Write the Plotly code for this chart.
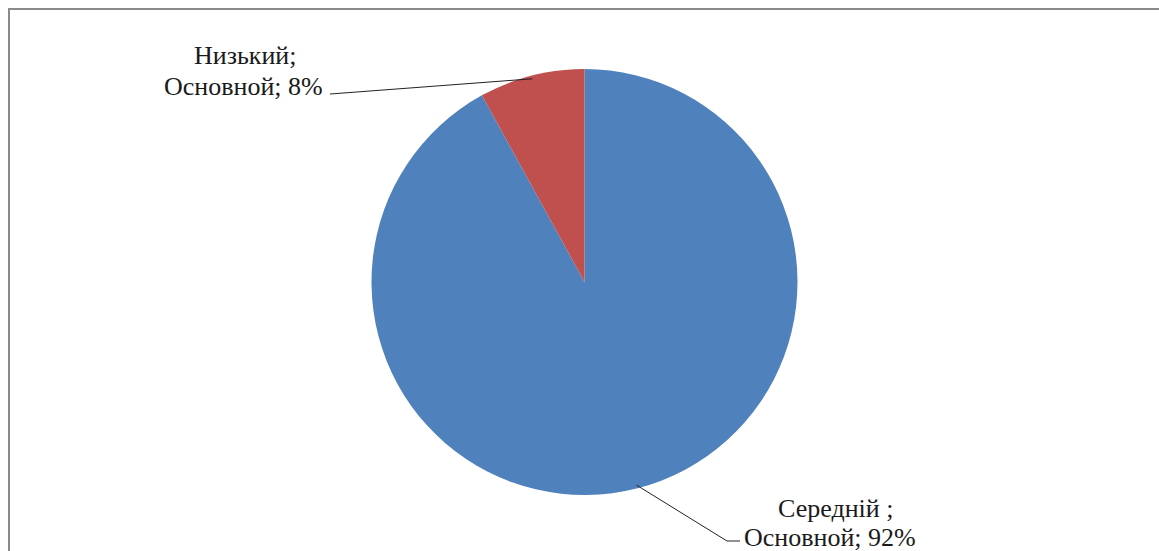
import math
import plotly.graph_objects as go

# Data
categories = ["Середній ; Основной", "Низький; Основной"]
values = [92, 8]
label_lines = [["Середній ;", "Основной; 92%"], ["Низький;", "Основной; 8%"]]
colors = ["#4F81BD", "#C0504D"]

W, H = 1159, 551
cx, cy, R = 584.5, 282, 213  # pie centre/radius in pixels


def px(x):
    return x / W


def py(y):
    return 1 - y / H


fig = go.Figure(go.Pie(
    labels=categories,
    values=values,
    sort=False,
    direction="clockwise",
    rotation=0,
    marker=dict(colors=colors, line=dict(width=0)),
    textinfo="none",
    hoverinfo="label+percent",
    showlegend=False,
    domain=dict(x=[px(cx - R), px(cx + R)], y=[py(cy + R), py(cy - R)]),
))

# mid-angle of each slice (clockwise from 12 o'clock)
total = sum(values)
mids = []
acc = 0
for v in values:
    mids.append((acc + v / 2) / total * 2 * math.pi)
    acc += v


def edge_point(theta, k=0.985):
    return cx + k * R * math.sin(theta), cy - k * R * math.cos(theta)


# label line centres (pixels) and leader elbow points
label_pos = [[(835, 508), (830, 537)], [(245, 56), (243, 86)]]
leader_paths = [
    [(727, 541), (740, 541)],
    [(330, 94)],
]

shapes = [
    dict(type="rect", xref="paper", yref="paper",
         x0=px(9), x1=1.05, y0=-0.05, y1=py(9),
         line=dict(color="#8a8a8a", width=2), fillcolor="rgba(0,0,0,0)", layer="below"),
]
for i, th in enumerate(mids):
    ex, ey = edge_point(th)
    pts = [(ex, ey)] + leader_paths[i]
    path = "M " + " L ".join(f"{px(x)} {py(y)}" for x, y in pts)
    shapes.append(dict(type="path", xref="paper", yref="paper", path=path,
                       line=dict(color="#222222", width=1)))

annotations = []
for i, lines in enumerate(label_lines):
    for j, t in enumerate(lines):
        x, y = label_pos[i][j]
        annotations.append(dict(
            text=t, x=px(x), y=py(y), xref="paper", yref="paper",
            xanchor="center", yanchor="middle", showarrow=False, align="center",
            font=dict(family="Liberation Serif", size=26, color="#1a1a1a"),
        ))

fig.update_layout(
    width=W, height=H,
    margin=dict(l=0, r=0, t=0, b=0),
    paper_bgcolor="white",
    plot_bgcolor="white",
    shapes=shapes,
    annotations=annotations,
)

fig.write_html("out.html")
